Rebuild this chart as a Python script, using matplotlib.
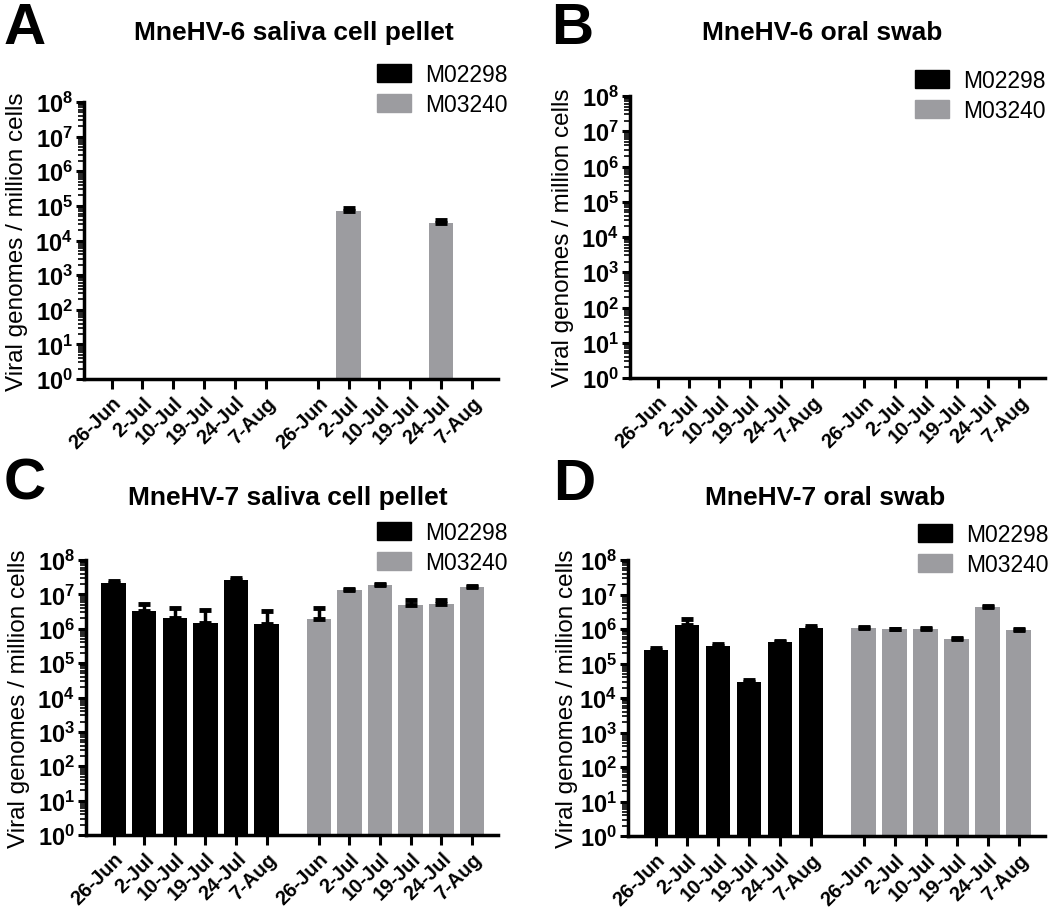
import numpy as np
import matplotlib
matplotlib.use("Agg")
from matplotlib import pyplot as plt
from matplotlib.patches import Patch
from matplotlib.ticker import FixedLocator, NullFormatter

plt.rcParams["font.family"] = ["Liberation Sans", "DejaVu Sans"]
plt.rcParams["mathtext.fontset"] = "custom"
plt.rcParams["mathtext.bf"] = "Liberation Sans:bold"
plt.rcParams["mathtext.rm"] = "Liberation Sans:bold"

# sampling dates (same for both animals)
dates = ["26-Jun", "2-Jul", "10-Jul", "19-Jul", "24-Jul", "7-Aug"]
animals = ["M02298", "M03240"]

# viral genomes / million cells (0 = not detected); *_up = top of error bar
hv6_pellet_m02298 = [0, 0, 0, 0, 0, 0]
hv6_pellet_m03240 = [0, 7.0e4, 0, 0, 3.2e4, 0]
hv6_pellet_m03240_up = [0, 8.7e4, 0, 0, 4.0e4, 0]

hv6_swab_m02298 = [0, 0, 0, 0, 0, 0]
hv6_swab_m03240 = [0, 0, 0, 0, 0, 0]

hv7_pellet_m02298 = [2.2e7, 3.3e6, 2.0e6, 1.5e6, 2.7e7, 1.35e6]
hv7_pellet_m02298_up = [2.4e7, 5.4e6, 4.0e6, 3.5e6, 2.9e7, 3.3e6]
hv7_pellet_m03240 = [1.9e6, 1.3e7, 1.9e7, 4.9e6, 5.1e6, 1.6e7]
hv7_pellet_m03240_up = [3.9e6, 1.45e7, 2.05e7, 6.7e6, 7.0e6, 1.75e7]

hv7_swab_m02298 = [2.5e5, 1.35e6, 3.2e5, 3.0e4, 4.2e5, 1.1e6]
hv7_swab_m02298_up = [2.8e5, 2.0e6, 3.7e5, 3.4e4, 4.4e5, 1.2e6]
hv7_swab_m03240 = [1.08e6, 9.7e5, 9.7e5, 5.2e5, 4.3e6, 9.1e5]
hv7_swab_m03240_up = [1.15e6, 1.03e6, 1.05e6, 5.6e5, 4.6e6, 1.0e6]

BLACK = "#000000"
GRAY = "#9c9ca0"
W, H = 1050, 912

decades = [10.0 ** k for k in range(9)]
minor = [d * s for d in decades[:-1] for s in range(2, 10)]


def px_axes(left, top, right, bottom):
    return [left / W, 1 - bottom / H, (right - left) / W, (bottom - top) / H]


def draw_panel(fig, rect, black, gray, black_up=None, gray_up=None):
    ax = fig.add_axes(px_axes(*rect))
    x1 = np.arange(len(dates))
    x2 = x1 + 6.7
    for xs, vals, ups, col in ((x1, black, black_up, BLACK), (x2, gray, gray_up, GRAY)):
        vals = np.array(vals, dtype=float)
        m = vals > 0
        if m.any():
            ax.bar(xs[m], vals[m], width=0.8, color=col, bottom=1, zorder=2)
            if ups is not None:
                ups = np.array(ups, dtype=float)
                err = ups[m] - vals[m]
                ax.errorbar(xs[m], vals[m], yerr=[np.zeros_like(err), err],
                            fmt="none", ecolor="black", elinewidth=2.5,
                            capsize=4, capthick=3.5, zorder=3)
    ax.set_yscale("log")
    ax.set_ylim(1, 1e8)
    ax.set_xlim(-0.9, 12.55)
    ax.yaxis.set_major_locator(FixedLocator(decades))
    ax.set_yticklabels([r"$\mathbf{10^{%d}}$" % k for k in range(9)], fontsize=17)
    ax.yaxis.set_minor_locator(FixedLocator(minor))
    ax.yaxis.set_minor_formatter(NullFormatter())
    ax.set_xticks(np.concatenate([x1, x2]))
    ax.set_xticklabels(dates + dates, rotation=45, ha="right",
                       rotation_mode="anchor", fontsize=14.5, fontweight="bold")
    for s in ("top", "right"):
        ax.spines[s].set_visible(False)
    for s in ("left", "bottom"):
        ax.spines[s].set_linewidth(2.5)
    ax.tick_params(axis="y", which="major", length=6, width=2.2, pad=2)
    ax.tick_params(axis="y", which="minor", length=4, width=1.2)
    ax.tick_params(axis="x", length=7, width=2.2, pad=3)
    return ax


fig = plt.figure(figsize=(10.5, 9.12), dpi=100)

panels = [
    ("A", "MneHV-6 saliva cell pellet", (84, 103, 498, 380),
     hv6_pellet_m02298, hv6_pellet_m03240, None, hv6_pellet_m03240_up,
     (4, 2), (294, 33), 17, (377, 64)),
    ("B", "MneHV-6 oral swab", (630, 97, 1045, 379),
     hv6_swab_m02298, hv6_swab_m03240, None, None,
     (551, 2), (822, 33), 563, (915, 70)),
    ("C", "MneHV-7 saliva cell pellet", (86, 561, 498, 836),
     hv7_pellet_m02298, hv7_pellet_m03240, hv7_pellet_m02298_up, hv7_pellet_m03240_up,
     (4, 458), (288, 498), 19, (377, 522)),
    ("D", "MneHV-7 oral swab", (628, 561, 1045, 837),
     hv7_swab_m02298, hv7_swab_m03240, hv7_swab_m02298_up, hv7_swab_m03240_up,
     (553, 458), (825, 498), 567, (918, 524)),
]

for letter, title, rect, blk, gry, blk_up, gry_up, lpos, tpos, ylx, legpos in panels:
    ax = draw_panel(fig, rect, blk, gry, blk_up, gry_up)
    fig.text(lpos[0] / W, 1 - lpos[1] / H, letter, fontsize=42, fontweight="bold",
             ha="left", va="top")
    fig.text(tpos[0] / W, 1 - tpos[1] / H, title, fontsize=19, fontweight="bold",
             ha="center", va="center")
    cy = 1 - ((rect[1] + rect[3]) / 2) / H
    fig.text(ylx / W, cy, "Viral genomes / million cells", fontsize=17.5,
             rotation=90, ha="center", va="center")
    handles = [Patch(facecolor=BLACK, edgecolor=BLACK, label=animals[0]),
               Patch(facecolor=GRAY, edgecolor=GRAY, label=animals[1])]
    fig.legend(handles=handles, loc="upper left",
               bbox_to_anchor=(legpos[0] / W, 1 - legpos[1] / H),
               frameon=False, fontsize=16.5, handlelength=1.5, handleheight=0.8,
               handletextpad=0.6, labelspacing=0.3, borderpad=0, borderaxespad=0)

fig.savefig("out.png", dpi=100)
